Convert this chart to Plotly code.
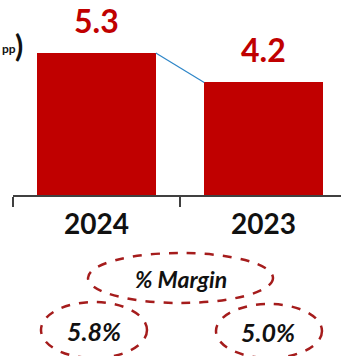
import plotly.graph_objects as go

years = ["2024", "2023"]
values = [5.3, 4.2]
value_labels = ["5.3", "4.2"]
margin_title = "% Margin"
margins = ["5.8%", "5.0%"]

W, H = 341, 356
RED = "#C00000"
DASH = "#A51C1C"
FONT = "Lato"

def px(x):
    return x / W

def py(y):
    return 1 - y / H

bar_w = 0.71
fig = go.Figure()
fig.add_trace(go.Bar(x=years, y=values, marker_color=RED, width=bar_w,
                     marker_line_width=0, hoverinfo="skip"))

# connecting line between bar tops
fig.add_shape(type="line", xref="x", yref="y",
              x0=0 + bar_w / 2, y0=values[0], x1=1 - bar_w / 2, y1=values[1],
              line=dict(color="#2E86C8", width=1.2))

annotations = []
for i, (v, lab) in enumerate(zip(values, value_labels)):
    annotations.append(dict(x=i, y=v, xref="x", yref="y", text=f"<b>{lab}</b>",
                            showarrow=False, xanchor="center", yanchor="bottom", yshift=11,
                            font=dict(family=FONT, size=32, color=RED)))

# partial header text at left
annotations.append(dict(x=px(0), y=py(48), xref="paper", yref="paper", text="<b>pp</b>",
                        showarrow=False, xanchor="left", yanchor="middle",
                        font=dict(family=FONT, size=12, color="#111111")))
annotations.append(dict(x=px(13), y=py(45), xref="paper", yref="paper", text="<b>)</b>",
                        showarrow=False, xanchor="left", yanchor="middle",
                        font=dict(family=FONT, size=30, color="#111111")))

# margin title and values
annotations.append(dict(x=px(181), y=py(279), xref="paper", yref="paper",
                        text=f"<b><i>{margin_title}</i></b>", showarrow=False,
                        xanchor="center", yanchor="middle",
                        font=dict(family=FONT, size=23, color="#111111")))
centers = [(94, 331), (268, 332)]
for (cx, cy), m in zip(centers, margins):
    annotations.append(dict(x=px(cx), y=py(cy), xref="paper", yref="paper",
                            text=f"<b><i>{m}</i></b>", showarrow=False,
                            xanchor="center", yanchor="middle",
                            font=dict(family=FONT, size=25, color="#111111")))

ellipses = [(88, 253, 273, 303), (41, 302, 147, 358), (216, 304, 322, 358)]
for x0, y0, x1, y1 in ellipses:
    fig.add_shape(type="circle", xref="paper", yref="paper",
                  x0=px(x0), x1=px(x1), y0=py(y1), y1=py(y0),
                  line=dict(color=DASH, width=2.5, dash="dash"))

fig.update_layout(
    width=W, height=H, margin=dict(l=0, r=0, t=0, b=0),
    paper_bgcolor="white", plot_bgcolor="white", showlegend=False,
    annotations=annotations, bargap=0,
    xaxis=dict(domain=[13 / W, 1], type="category", range=[-0.5, 1.464],
               tickson="boundaries", ticks="outside", ticklen=10, tickwidth=1.5,
               tickcolor="#404040", showline=True, linecolor="#404040", linewidth=1.5,
               showgrid=False, zeroline=False,
               tickfont=dict(family=FONT, size=28, color="#111111"), ticklabelstandoff=4),
    yaxis=dict(domain=[161 / H, 1], range=[0, 195 / 26.8], visible=False,
               showgrid=False, zeroline=False),
)
fig.update_xaxes(ticktext=[f"<b>{y}</b>" for y in years], tickvals=years)

fig.write_html("out.html")
